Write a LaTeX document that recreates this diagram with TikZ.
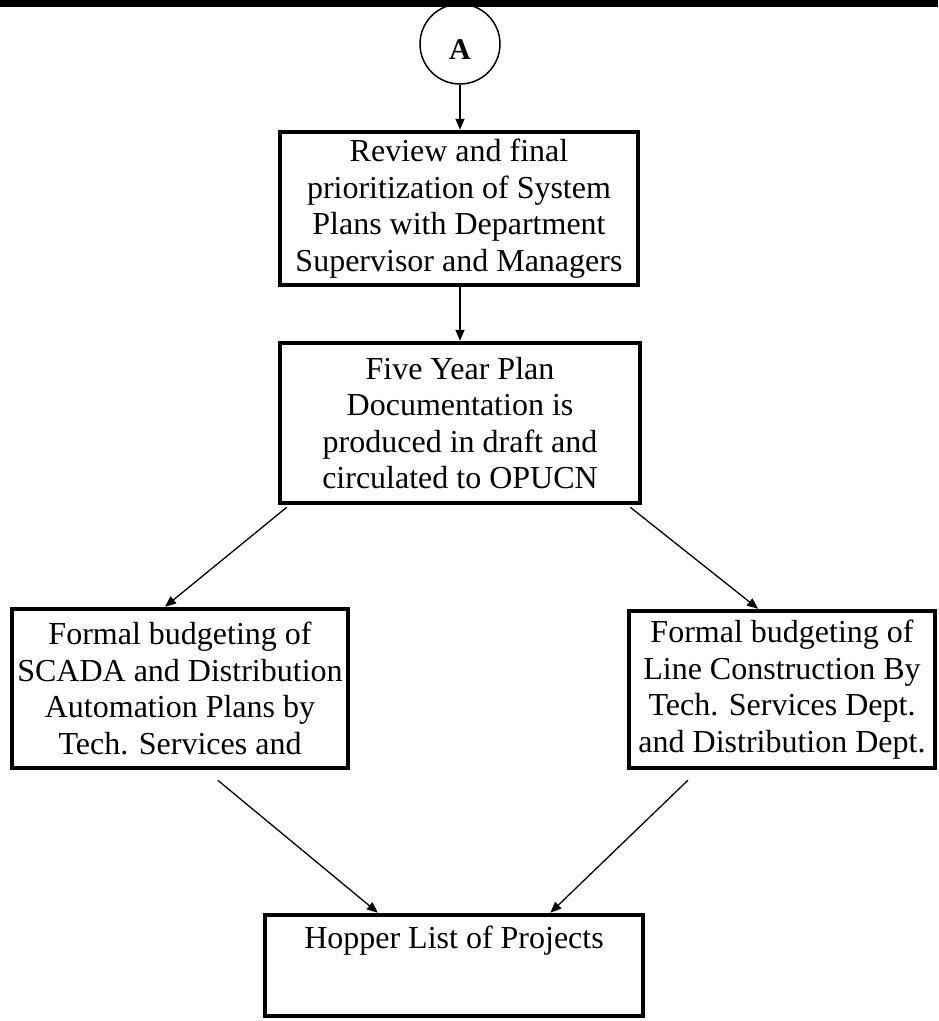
\documentclass[tikz,border=0pt]{standalone}
\usepackage{fontspec}
\setmainfont{Liberation Serif}
\usetikzlibrary{arrows.meta,calc}
\begin{document}
\begin{tikzpicture}[x=1pt,y=-1pt,
  stepbox/.style={draw, line width=4.5pt, rectangle, inner sep=0pt, align=center,
    font=\fontsize{32}{36.5}\selectfont},
  flow/.style={line width=1.3pt, -{Triangle[length=11pt,width=9pt]}},
]
\useasboundingbox (0,0) rectangle (938,1021);
% page rule at the top
\fill (0,0) rectangle (938,7);

% off-page connector
\node[draw, circle, line width=1.5pt, minimum size=80pt, inner sep=0pt] (conn) at (460,44) {};
\node[font=\bfseries\fontsize{30}{32}\selectfont, anchor=base] (connlabel) at (460,59) {A};

% process boxes
\node[stepbox, minimum width=358pt, minimum height=153pt] (review) at (459,208.5)
  {Review and final\\prioritization of System\\Plans with Department\\Supervisor and Managers};
\node[stepbox, minimum width=360pt, minimum height=160pt] (plan) at (460,423)
  {Five Year Plan\\Documentation is\\produced in draft and\\circulated to OPUCN};
\node[stepbox, minimum width=336pt, minimum height=159pt] (scada) at (180,688.5)
  {Formal budgeting of\\SCADA and Distribution\\Automation Plans by\\Tech. Services and};
\node[stepbox, minimum width=306pt, minimum height=157pt] (line) at (782,689.5)
  {Formal budgeting of\\Line Construction By\\Tech. Services Dept.\\and Distribution Dept.};
\node[stepbox, minimum width=378pt, minimum height=101pt] (hopper) at (454,965.5) {};
\node[font=\fontsize{32}{36.5}\selectfont, anchor=base] (hoppertext) at (454,948)
  {Hopper List of Projects};

% connectors
\draw[flow] (conn.south) -- (conn.south |- review.north);
\draw[flow] (conn.south |- review.south) -- (conn.south |- plan.north);
\draw[flow] ($(plan.south west)+(9,2)$) -- ($(scada.north west)!0.456!(scada.north east)$);
\draw[flow] ($(plan.south east)+(-12,2)$) -- ($(line.north west)!0.423!(line.north east)$);
\coordinate (scadaout) at ($(scada.south west)!0.611!(scada.south east)+(0,10)$);
\coordinate (lineout) at ($(line.south west)!0.197!(line.south east)+(0,10)$);
\draw[flow] (scadaout) -- ($(hopper.north west)!0.301!(hopper.north east)$);
\draw[flow] (lineout) -- ($(hopper.north west)!0.752!(hopper.north east)$);
\end{tikzpicture}
\end{document}
